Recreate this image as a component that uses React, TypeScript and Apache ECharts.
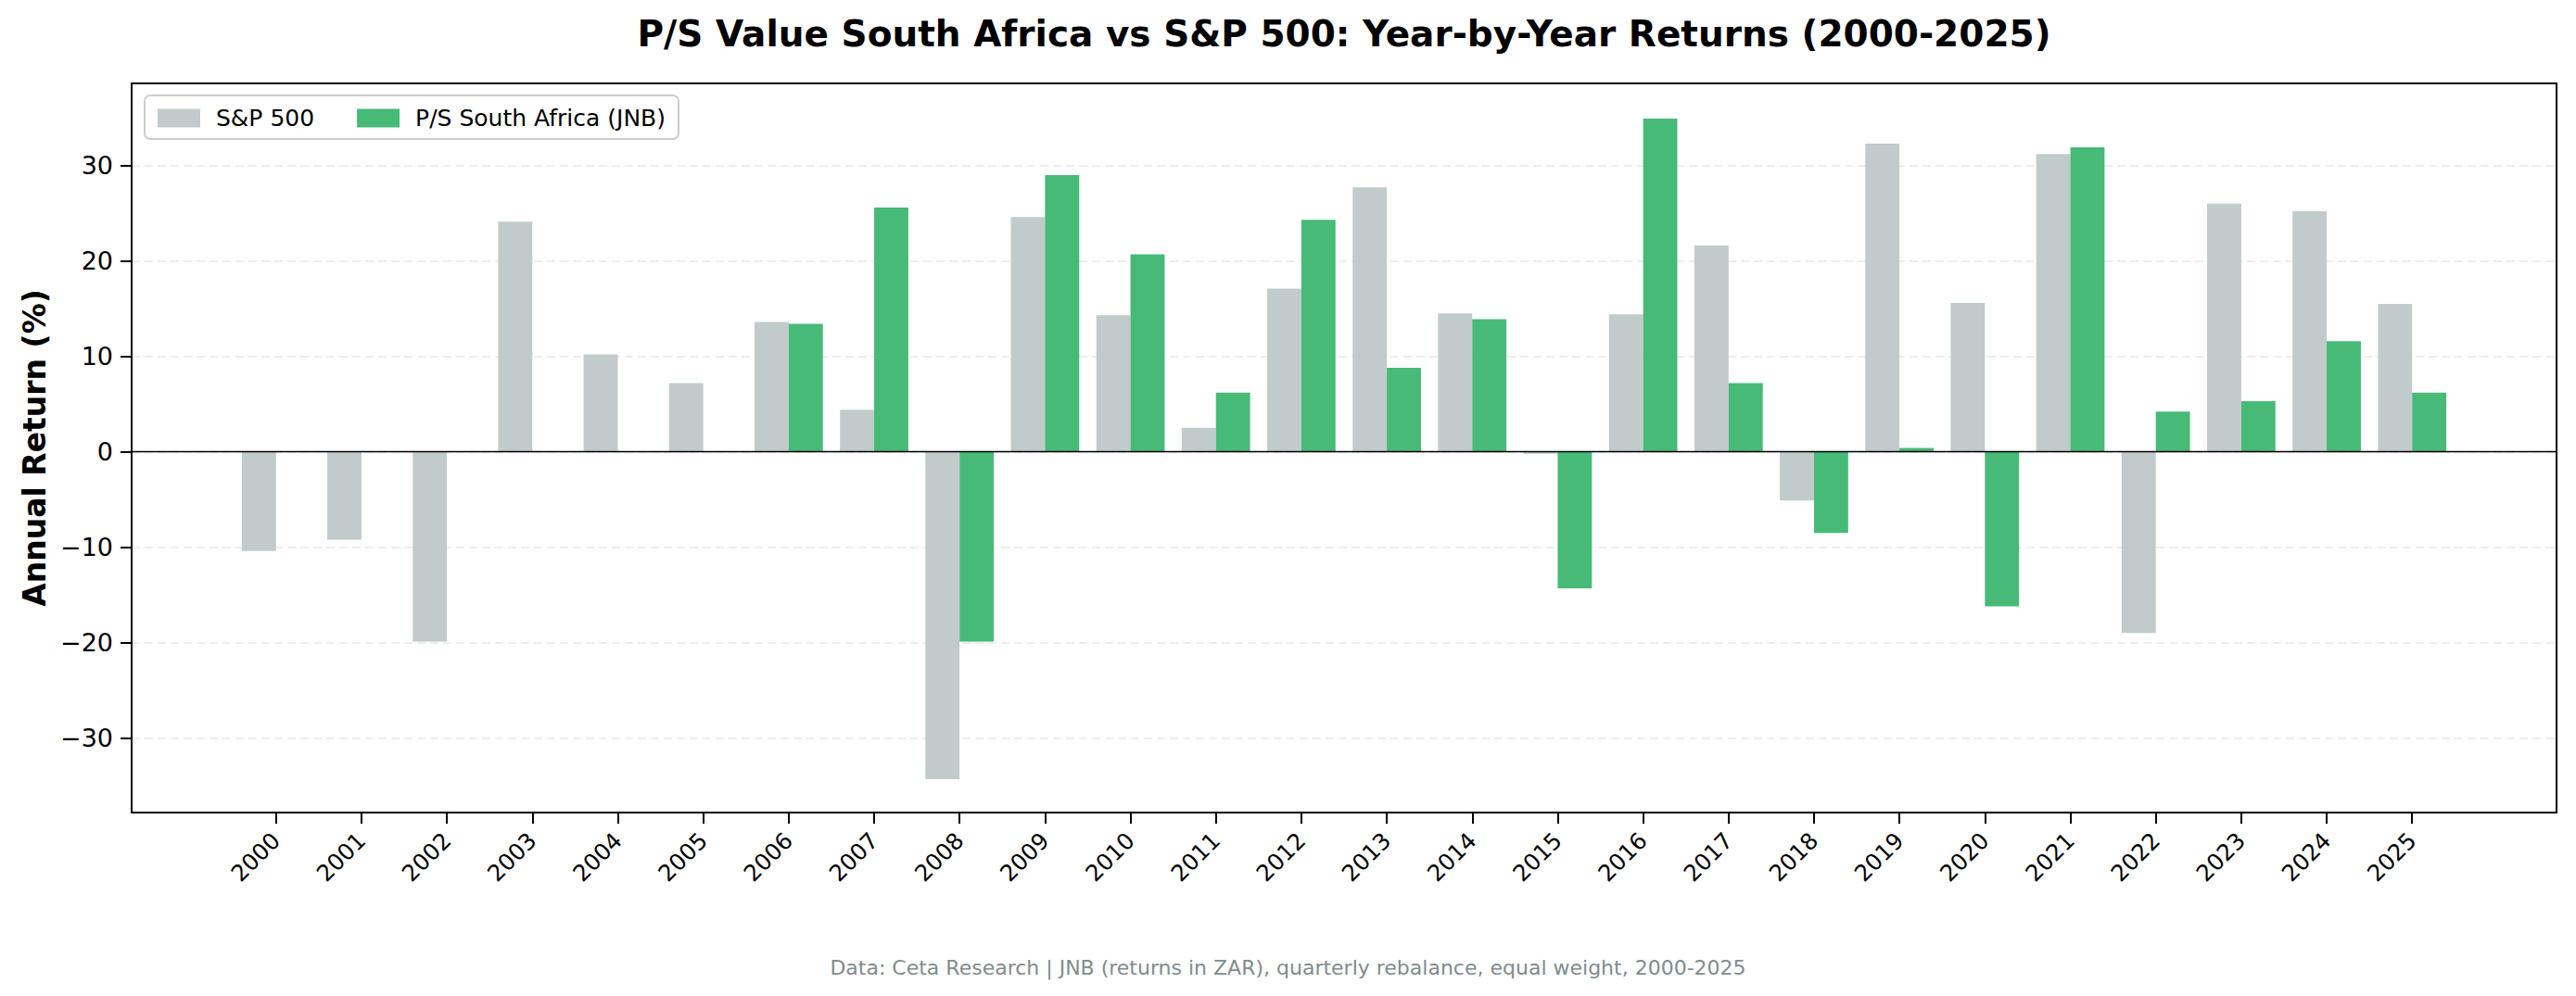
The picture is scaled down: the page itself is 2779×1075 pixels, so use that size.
import React, { useEffect, useRef } from "react";
import * as echarts from "echarts";

const years = [
  "2000", "2001", "2002", "2003", "2004", "2005", "2006", "2007", "2008", "2009",
  "2010", "2011", "2012", "2013", "2014", "2015", "2016", "2017", "2018", "2019",
  "2020", "2021", "2022", "2023", "2024", "2025",
];

const sp500Returns = [
  -10.4, -9.2, -19.9, 24.1, 10.2, 7.2, 13.6, 4.4, -34.3, 24.6,
  14.3, 2.5, 17.1, 27.7, 14.5, -0.2, 14.4, 21.6, -5.1, 32.3,
  15.6, 31.2, -19.0, 26.0, 25.2, 15.5,
];

const psSouthAfricaReturns: (number | null)[] = [
  null, null, null, null, null, null, 13.4, 25.6, -19.9, 29.0,
  20.7, 6.2, 24.3, 8.8, 13.9, -14.3, 34.9, 7.2, -8.5, 0.4,
  -16.2, 31.9, 4.2, 5.3, 11.6, 6.2,
];

const yTickValues = [-30, -20, -10, 0, 10, 20, 30];

const FONT = "DejaVu Sans";

export default function App() {
  const ref = useRef<HTMLDivElement>(null);

  useEffect(() => {
    document.body.style.margin = "0";
    if (!ref.current) return;
    const chart = echarts.init(ref.current, null, { renderer: "svg" });

    const xIdx = years.map((_, i) => i);

    const option: any = {
      animation: false,
      backgroundColor: "#ffffff",
      textStyle: { fontFamily: FONT },
      graphic: [
        {
          type: "text",
          x: 1450,
          y: 36,
          style: {
            text: "P/S Value South Africa vs S&P 500: Year-by-Year Returns (2000-2025)",
            textAlign: "center",
            textVerticalAlign: "middle",
            fontFamily: FONT,
            fontSize: 39,
            fontWeight: "bold",
            fill: "#000000",
          },
        },
        {
          type: "text",
          x: 1389.5,
          y: 1044,
          style: {
            text: "Data: Ceta Research | JNB (returns in ZAR), quarterly rebalance, equal weight, 2000-2025",
            textAlign: "center",
            textVerticalAlign: "middle",
            fontFamily: FONT,
            fontSize: 22,
            fill: "#7f8c8d",
          },
        },
      ],
      legend: {
        left: 156,
        top: 103,
        orient: "horizontal",
        padding: [12, 14, 10, 14],
        itemGap: 46,
        itemWidth: 46,
        itemHeight: 20,
        icon: "rect",
        backgroundColor: "rgba(255,255,255,0.8)",
        borderColor: "#cccccc",
        borderWidth: 2,
        borderRadius: 6,
        textStyle: { fontFamily: FONT, fontSize: 25, color: "#000000", padding: [0, 0, 0, 12] },
        data: ["S&P 500", "P/S South Africa (JNB)"],
      },
      grid: {
        left: 142,
        right: 21,
        top: 90,
        bottom: 198,
        show: true,
        borderColor: "#000000",
        borderWidth: 2,
        backgroundColor: "transparent",
        containLabel: false,
      },
      xAxis: {
        type: "value",
        min: -1.69,
        max: 26.69,
        position: "bottom",
        splitLine: { show: false },
        axisLine: { show: true, onZero: false, lineStyle: { color: "#000000", width: 2 } },
        axisTick: {
          show: true,
          inside: false,
          length: 12,
          lineStyle: { color: "#000000", width: 2 },
          customValues: xIdx,
        },
        axisLabel: {
          show: true,
          rotate: 45,
          margin: 26,
          fontFamily: FONT,
          fontSize: 24.5,
          color: "#000000",
          customValues: xIdx,
          formatter: (v: number) => years[Math.round(v)] ?? "",
        },
      },
      yAxis: {
        type: "value",
        min: -37.8,
        max: 38.6,
        position: "left",
        splitNumber: 8,
        minInterval: 10,
        maxInterval: 10,
        name: "Annual Return (%)",
        nameLocation: "middle",
        nameGap: 88,
        nameRotate: 90,
        nameTextStyle: { fontFamily: FONT, fontSize: 33, fontWeight: "bold", color: "#000000" },
        axisLine: { show: true, onZero: false, lineStyle: { color: "#000000", width: 2 } },
        axisTick: {
          show: true,
          inside: false,
          length: 12,
          lineStyle: { color: "#000000", width: 2 },
          customValues: yTickValues,
        },
        axisLabel: {
          show: true,
          margin: 20,
          fontFamily: FONT,
          fontSize: 27,
          color: "#000000",
          customValues: yTickValues,
          formatter: (v: number) => (v < 0 ? "\u2212" + Math.abs(v) : String(v)),
        },
        splitLine: {
          show: true,
          lineStyle: { color: "#e8e8e8", width: 1.6, type: [9, 5] },
        },
      },
      series: [
        {
          name: "S&P 500",
          type: "bar",
          barWidth: "40%",
          barGap: "0%",
          itemStyle: { color: "#c2cbcb" },
          data: sp500Returns.map((v, i) => [i, v]),
        },
        {
          name: "P/S South Africa (JNB)",
          type: "bar",
          barWidth: "40%",
          barGap: "0%",
          itemStyle: { color: "#47ba78" },
          data: psSouthAfricaReturns.map((v, i) => [i, v === null ? "-" : v]),
          markLine: {
            silent: true,
            symbol: ["none", "none"],
            label: { show: false },
            lineStyle: { color: "#000000", width: 1.4, type: "solid" },
            data: [{ yAxis: 0 }],
          },
        },
      ],
    };

    chart.setOption(option);
    return () => chart.dispose();
  }, []);

  return <div ref={ref} style={{ width: 2779, height: 1075 }} />;
}
